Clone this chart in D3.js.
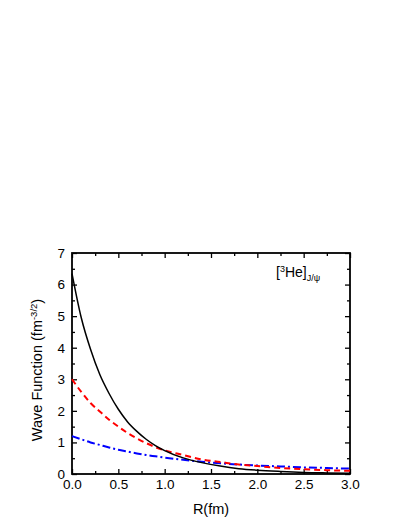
<!DOCTYPE html>
<html>
<head>
<meta charset="utf-8">
<script src="https://cdn.jsdelivr.net/npm/d3@7"></script>
<style>
  body { margin: 0; background: #fff; }
  svg { display: block; font-family: "Liberation Sans", Arial, sans-serif; }
</style>
</head>
<body>
<svg id="chart" width="407" height="527"></svg>
<script>
const width = 407;
const height = 527;

// R (fm) sample points
const rValues = [0, 0.1, 0.2, 0.3, 0.4, 0.5, 0.6, 0.7, 0.8, 0.9, 1.0, 1.2, 1.4, 1.6, 1.8, 2.0, 2.25, 2.5, 2.75, 3.0];
const blackSolid = [6.35, 4.95, 3.95, 3.15, 2.55, 2.05, 1.65, 1.35, 1.1, 0.9, 0.74, 0.51, 0.36, 0.25, 0.17, 0.12, 0.08, 0.05, 0.035, 0.025];
const redDash   = [3.0, 2.6, 2.25, 1.98, 1.72, 1.5, 1.3, 1.13, 0.98, 0.85, 0.75, 0.6, 0.46, 0.38, 0.3, 0.25, 0.19, 0.15, 0.12, 0.1];
const blueDashDot = [1.2, 1.1, 1.0, 0.92, 0.84, 0.77, 0.71, 0.65, 0.6, 0.56, 0.52, 0.45, 0.39, 0.34, 0.3, 0.27, 0.24, 0.21, 0.19, 0.17];

const xTicks = [0, 0.5, 1.0, 1.5, 2.0, 2.5, 3.0];
const xMinor = [0.25, 0.75, 1.25, 1.75, 2.25, 2.75];
const yTicks = [0, 1, 2, 3, 4, 5, 6, 7];
const yMinor = [0.5, 1.5, 2.5, 3.5, 4.5, 5.5, 6.5];

const svg = d3.select("#chart");

const x = d3.scaleLinear().domain([0, 3]).range([72, 350]);
const y = d3.scaleLinear().domain([0, 7]).range([474, 253]);

// minor ticks, all four sides, pointing in
svg.append("g").attr("transform", `translate(0,${y(0)})`)
  .call(d3.axisBottom(x).tickValues(xMinor).tickSize(-3).tickFormat(""));
svg.append("g").attr("transform", `translate(0,${y(7)})`)
  .call(d3.axisTop(x).tickValues(xMinor).tickSize(-3).tickFormat(""));
svg.append("g").attr("transform", `translate(${x(0)},0)`)
  .call(d3.axisLeft(y).tickValues(yMinor).tickSize(-3).tickFormat(""));
svg.append("g").attr("transform", `translate(${x(3)},0)`)
  .call(d3.axisRight(y).tickValues(yMinor).tickSize(-3).tickFormat(""));

// major ticks
svg.append("g").attr("transform", `translate(0,${y(0)})`)
  .call(d3.axisBottom(x).tickValues(xTicks).tickSize(-5).tickPadding(5).tickFormat(d3.format(".1f")));
svg.append("g").attr("transform", `translate(0,${y(7)})`)
  .call(d3.axisTop(x).tickValues(xTicks).tickSize(-5).tickFormat(""));
svg.append("g").attr("transform", `translate(${x(0)},0)`)
  .call(d3.axisLeft(y).tickValues(yTicks).tickSize(-5).tickPadding(7).tickFormat(d3.format("d")));
svg.append("g").attr("transform", `translate(${x(3)},0)`)
  .call(d3.axisRight(y).tickValues(yTicks).tickSize(-5).tickFormat(""));

svg.selectAll(".domain").remove();
svg.selectAll(".tick line").attr("stroke", "#000").attr("stroke-width", 1.3);
svg.selectAll(".tick text").attr("font-size", 13.5).attr("fill", "#000")
  .attr("font-family", "Liberation Sans, Arial, sans-serif");

// frame
svg.append("rect")
  .attr("x", x(0)).attr("y", y(7))
  .attr("width", x(3) - x(0)).attr("height", y(0) - y(7))
  .attr("fill", "none").attr("stroke", "#000").attr("stroke-width", 1.8);

const line = vals => d3.line()
  .x((d, i) => x(rValues[i]))
  .y(d => y(d))
  .curve(d3.curveMonotoneX)(vals);

const plot = svg.append("g");
plot.append("path").attr("d", line(blueDashDot))
  .attr("fill", "none").attr("stroke", "#0000ff").attr("stroke-width", 2)
  .attr("stroke-dasharray", "8,3,2,3");
plot.append("path").attr("d", line(redDash))
  .attr("fill", "none").attr("stroke", "#ff0000").attr("stroke-width", 2)
  .attr("stroke-dasharray", "6,4");
plot.append("path").attr("d", line(blackSolid))
  .attr("fill", "none").attr("stroke", "#000").attr("stroke-width", 1.5);

// axis titles
svg.append("text")
  .attr("x", (x(0) + x(3)) / 2).attr("y", 514)
  .attr("text-anchor", "middle").attr("font-size", 14.5)
  .text("R(fm)");

const yl = svg.append("text")
  .attr("transform", `translate(42,370) rotate(-90)`)
  .attr("text-anchor", "middle").attr("font-size", 14.5);
yl.append("tspan").text("Wave Function (fm");
yl.append("tspan").attr("dy", -5).attr("font-size", 9.5).text("-3/2");
yl.append("tspan").attr("dy", 5).text(")");

// label in corner
const lab = svg.append("text").attr("x", 276).attr("y", 277).attr("font-size", 14);
lab.append("tspan").text("[");
lab.append("tspan").attr("dy", -5).attr("font-size", 9).text("3");
lab.append("tspan").attr("dy", 5).text("He]");
lab.append("tspan").attr("dy", 4).attr("font-size", 9).text("J/\u03c8");
</script>
</body>
</html>
